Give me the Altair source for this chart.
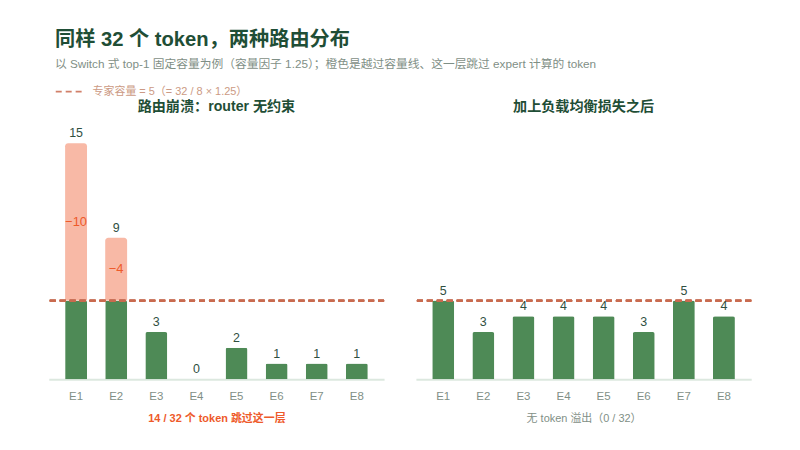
import altair as alt
import pandas as pd

experts = ["E1", "E2", "E3", "E4", "E5", "E6", "E7", "E8"]
collapse_counts = [15, 9, 3, 0, 2, 1, 1, 1]
balanced_counts = [5, 3, 4, 4, 4, 3, 5, 4]
capacity = 5
cap_label = "专家容量 = 5（= 32 / 8 × 1.25）"

title_text = "同样 32 个 token，两种路由分布"
subtitle_text = "以 Switch 式 top-1 固定容量为例（容量因子 1.25）；橙色是越过容量线、这一层跳过 expert 计算的 token"
left_title = "路由崩溃：router 无约束"
right_title = "加上负载均衡损失之后"
left_caption = "14 / 32 个 token 跳过这一层"
right_caption = "无 token 溢出（0 / 32）"

FONT = "Liberation Sans, Noto Sans CJK SC"
GREEN = "#4e8a56"
SALMON = "#f8b9a6"
ORANGE = "#ee5a2a"
DARK = "#1f4e36"
GRAY = "#7f8f86"
DASH = "#c96a4f"


def make_df(counts):
    rows = []
    for e, c in zip(experts, counts):
        kept = min(c, capacity)
        over = max(c - capacity, 0)
        rows.append({
            "expert": e, "count": c, "kept": kept, "cap": capacity,
            "over": over, "mid": (capacity + c) / 2,
            "over_label": "\u2212" + str(over), "cap_name": cap_label,
        })
    return pd.DataFrame(rows)


def panel(counts, title, caption, caption_color, caption_weight, with_legend):
    df = make_df(counts)
    base = alt.Chart(df)
    x = alt.X(
        "expert:N", sort=experts,
        scale=alt.Scale(paddingInner=0.454, paddingOuter=0.407),
        axis=alt.Axis(
            title=caption, labelAngle=0, ticks=False, domainColor="#dce8df",
            domainWidth=2, labelColor=GRAY, labelFont=FONT, labelFontSize=11.5,
            labelPadding=11, titleColor=caption_color, titleFont=FONT,
            titleFontSize=11, titleFontWeight=caption_weight, titlePadding=11,
        ),
    )
    yscale = alt.Scale(domain=[0, 16.2], nice=False)
    kept = base.mark_bar(color=GREEN, cornerRadiusTopLeft=2, cornerRadiusTopRight=2).encode(
        x=x, y=alt.Y("kept:Q", scale=yscale, axis=None)
    )
    over = base.transform_filter("datum.over > 0").mark_bar(
        color=SALMON, cornerRadiusTopLeft=3, cornerRadiusTopRight=3
    ).encode(x=x, y=alt.Y("cap:Q", scale=yscale, axis=None), y2="count:Q")
    vals = base.mark_text(
        dy=-10, color="#2f4f3f", font=FONT, fontSize=12.5, baseline="middle"
    ).encode(x=x, y=alt.Y("count:Q", scale=yscale, axis=None), text="count:Q")
    over_txt = base.transform_filter("datum.over > 0").mark_text(
        color=ORANGE, font=FONT, fontSize=13, baseline="middle"
    ).encode(x=x, y=alt.Y("mid:Q", scale=yscale, axis=None), text="over_label:N")
    if with_legend:
        color = alt.Color(
            "cap_name:N",
            scale=alt.Scale(domain=[cap_label], range=[DASH]),
            legend=alt.Legend(
                title=None, orient="top", symbolType="stroke", symbolDash=[6, 4],
                symbolStrokeWidth=1.6, symbolSize=676, labelFont=FONT,
                labelFontSize=11, labelColor="#cc9a84", symbolOpacity=0.85,
                labelOffset=10, padding=0, offset=3, symbolOffset=6,
            ),
        )
        rule = base.mark_rule(strokeDash=[6, 4], strokeWidth=1.6, opacity=0.9).encode(
            y=alt.Y("cap:Q", scale=yscale, axis=None), color=color
        )
    else:
        rule = base.mark_rule(strokeDash=[6, 4], strokeWidth=1.6, color=DASH, opacity=0.9).encode(
            y=alt.Y("cap:Q", scale=yscale, axis=None)
        )
    return alt.layer(kept, over, rule, vals, over_txt).properties(
        width=337, height=256,
        title=alt.TitleParams(title, font=FONT, fontSize=14.2, fontWeight="bold",
                              color=DARK, offset=10),
    )


left = panel(collapse_counts, left_title, left_caption, ORANGE, "bold", True)
right = panel(balanced_counts, right_title, right_caption, GRAY, "normal", False)

chart = alt.hconcat(left, right, spacing=30).properties(
    padding={"left": 40, "right": 40, "top": 20, "bottom": 10},
    title=alt.TitleParams(
        title_text, subtitle=subtitle_text, anchor="start", font=FONT,
        fontSize=20.3, fontWeight="bold", color=DARK, subtitleFont=FONT,
        subtitleFontSize=11.8, subtitleColor=GRAY, subtitlePadding=9,
        offset=7, dx=7,
    ),
).configure_view(stroke=None)

chart.save("out.html", embed_options={"renderer": "svg", "actions": False})
